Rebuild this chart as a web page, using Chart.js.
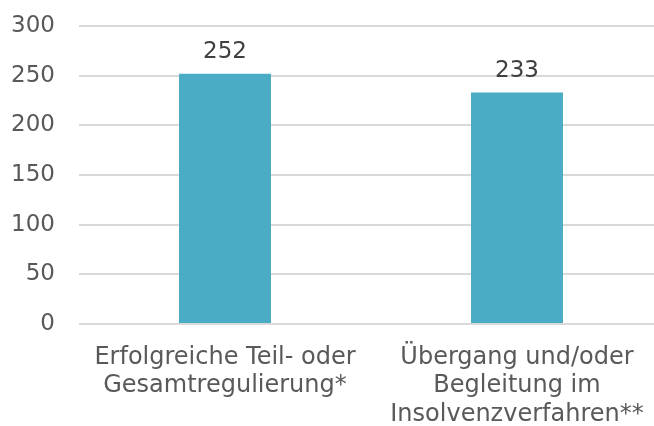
<!DOCTYPE html>
<html>
<head>
<meta charset="utf-8">
<script src="https://cdn.jsdelivr.net/npm/chart.js@4"></script>
<style>
  html, body { margin: 0; padding: 0; background: #fff; overflow: hidden; }
  #wrap { width: 663px; height: 426px; }
</style>
</head>
<body>
<div id="wrap"><canvas id="grafico"></canvas></div>
<script>
// Datos del gráfico
const categorias = [
    ['Erfolgreiche Teil- oder', 'Gesamtregulierung*'],
    ['Übergang und/oder', 'Begleitung im', 'Insolvenzverfahren**']
];
const valores = [252, 233];
const ticksY = [0, 50, 100, 150, 200, 250, 300];

const colorBarra = '#4BACC6';
const colorTexto = '#595959';
const fuente = 'DejaVu Sans, Verdana, sans-serif';

// Plugin sencillo para escribir el valor encima de cada barra
const etiquetasValor = {
    id: 'etiquetasValor',
    afterDatasetsDraw(chart) {
        const ctx = chart.ctx;
        const meta = chart.getDatasetMeta(0);
        ctx.save();
        ctx.font = '23px ' + fuente;
        ctx.fillStyle = '#404040';
        ctx.textAlign = 'center';
        ctx.textBaseline = 'alphabetic';
        meta.data.forEach((bar, i) => {
            ctx.fillText(valores[i], bar.x, bar.y - 16);
        });
        ctx.restore();
    }
};

new Chart(document.getElementById('grafico'), {
    type: 'bar',
    data: {
        labels: categorias,
        datasets: [{
            data: valores,
            backgroundColor: colorBarra,
            borderWidth: 0,
            categoryPercentage: 1,
            barPercentage: 0.315
        }]
    },
    options: {
        responsive: true,
        maintainAspectRatio: false,
        animation: false,
        layout: { padding: { top: 26, right: 0, bottom: 0, left: 0 } },
        plugins: {
            legend: { display: false },
            tooltip: { enabled: false }
        },
        scales: {
            x: {
                grid: { display: false, drawTicks: false },
                border: { display: false },
                ticks: {
                    color: colorTexto,
                    font: { family: fuente, size: 24, lineHeight: 1.19 },
                    padding: 19,
                    maxRotation: 0,
                    autoSkip: false
                },
                afterFit(scale) { scale.height = 102; }
            },
            y: {
                min: 0,
                max: 300,
                afterBuildTicks(scale) { scale.ticks = ticksY.map(v => ({ value: v })); },
                grid: { color: '#d9d9d9', lineWidth: 2, drawTicks: false },
                border: { display: false },
                ticks: {
                    color: colorTexto,
                    font: { family: fuente, size: 23 },
                    padding: 24
                },
                afterFit(scale) {
                    scale.width = 79;
                    scale.paddingTop = 0;
                    scale.paddingBottom = 0;
                }
            }
        }
    },
    plugins: [etiquetasValor]
});
</script>
</body>
</html>
